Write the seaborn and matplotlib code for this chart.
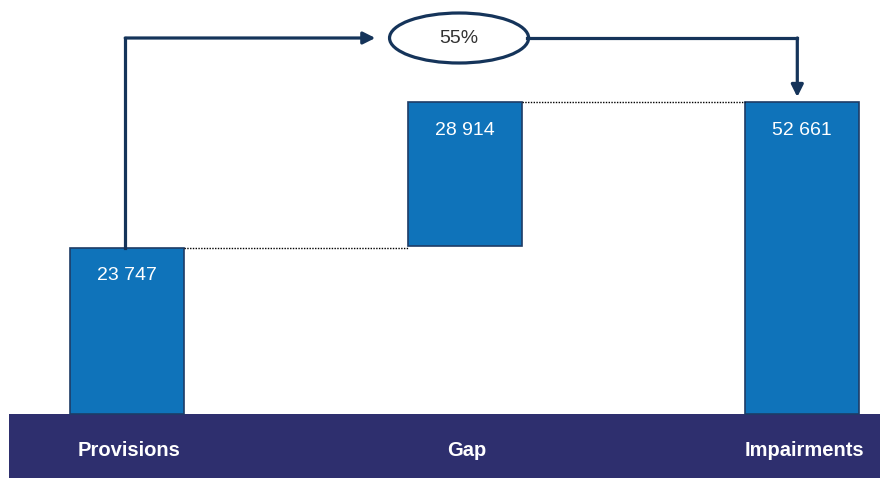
import seaborn as sns
import matplotlib.pyplot as plt
import pandas as pd
from matplotlib.patches import Ellipse, Rectangle

# categories and the values printed on the bars
categories = ["Provisions", "Gap", "Impairments"]
values = [23747, 28914, 52661]
value_labels = ["23 747", "28 914", "52 661"]
ratio_label = "55%"

# bar extents as drawn in the slide (not to scale with the values)
bar_bottoms = [0, 168, 0]
bar_heights = [166, 144, 312]

df = pd.DataFrame({"category": categories, "height": bar_heights, "bottom": bar_bottoms})

bar_color = "#0F73BA"
edge_color = "#1E3C66"
line_color = "#15345A"
band_color = "#2E2F6E"

plt.rcParams["font.family"] = ["Liberation Sans", "DejaVu Sans"]

fig = plt.figure(figsize=(8.8, 4.79), dpi=100)
ax = fig.add_axes([0, 0, 1, 1])

sns.barplot(data=df, x="category", y="height", bottom=df["bottom"], color=bar_color,
            edgecolor=edge_color, linewidth=1.2, width=0.338, saturation=1, ax=ax)

ax.set_xlim(-0.377, 2.23)
ax.set_ylim(-65, 414)
ax.axis("off")

# dark band under the bars with the category names
ax.add_patch(Rectangle((-0.35, -64), 2.6, 64, facecolor=band_color, edgecolor="none", zorder=0))
for i, cat in enumerate(categories):
    ax.text(i + 0.005, -37, cat, color="white", fontsize=14.5, fontweight="bold",
            ha="center", va="center")

# value labels
for i, lab in enumerate(value_labels):
    top = bar_bottoms[i] + bar_heights[i]
    ax.text(i, top - 28, lab, color="white", fontsize=14, ha="center", va="center")

# dotted connectors
ax.plot([0.169, 0.831], [166, 166], color="black", lw=1, ls=(0, (1, 1)))
ax.plot([1.169, 1.831], [312, 312], color="black", lw=1, ls=(0, (1, 1)))

# arrow from Provisions to Impairments via the ratio bubble
ax.plot([-0.006, -0.006], [166, 376], color=line_color, lw=2.3, solid_capstyle="projecting")
ax.annotate("", xy=(0.735, 376), xytext=(-0.006, 376),
            arrowprops=dict(arrowstyle="-|>", color=line_color, lw=2.3, mutation_scale=18,
                            shrinkA=0, shrinkB=0))
ax.plot([1.185, 1.985], [376, 376], color=line_color, lw=2.3, solid_capstyle="projecting")
ax.annotate("", xy=(1.985, 317), xytext=(1.985, 376),
            arrowprops=dict(arrowstyle="-|>", color=line_color, lw=2.3, mutation_scale=18,
                            shrinkA=0, shrinkB=0))
ax.add_patch(Ellipse((0.983, 376), 0.412, 50, facecolor="white", edgecolor=line_color, lw=2.3))
ax.text(0.983, 376, ratio_label, color="#333333", fontsize=14, ha="center", va="center")

fig.savefig("out.png", dpi=100)
